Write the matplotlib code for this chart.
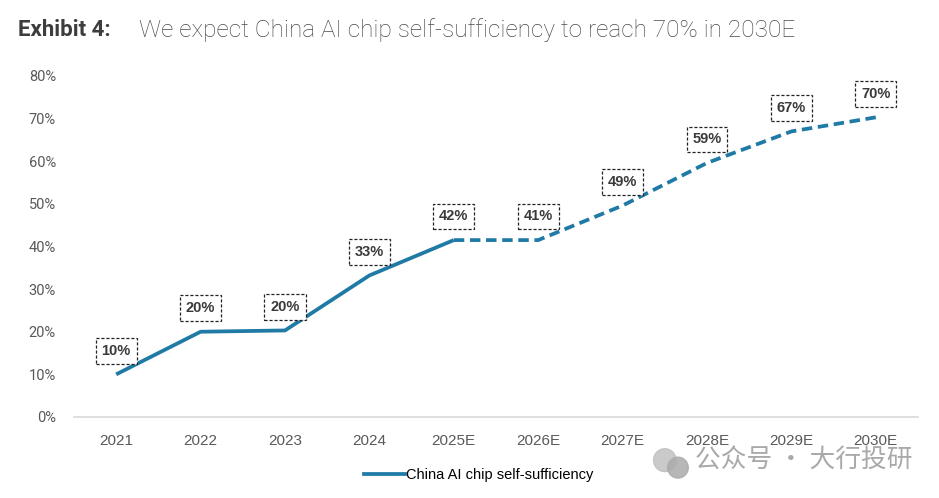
import matplotlib.pyplot as plt
from matplotlib import font_manager
from matplotlib.patches import Ellipse

years = ["2021", "2022", "2023", "2024", "2025E", "2026E", "2027E", "2028E", "2029E", "2030E"]
share = [10, 20, 20.3, 33.2, 41.5, 41.5, 49.6, 59.6, 67.0, 70.3]
labels = ["10%", "20%", "20%", "33%", "42%", "41%", "49%", "59%", "67%", "70%"]
actual_until = 4  # index of 2025E, dashed from here on
yticks = [0, 10, 20, 30, 40, 50, 60, 70, 80]

LINE = "#1f7aa6"
GREY = "#595959"

names = {f.name for f in font_manager.fontManager.ttflist}
narrow = "Liberation Sans Narrow" if "Liberation Sans Narrow" in names else "Liberation Sans"

fig = plt.figure(figsize=(9.39, 4.98), dpi=100)
ax = fig.add_axes([0.0788, 0.1627, 0.8988, 0.6847])

x = list(range(len(years)))
ax.plot(x[:actual_until + 1], share[:actual_until + 1], color=LINE, lw=2.7, solid_capstyle="butt")
ax.plot(x[actual_until:], share[actual_until:], color=LINE, lw=2.7, ls=(0, (2.8, 1.5)))

for xi, yi, lab in zip(x, share, labels):
    ax.annotate(lab, (xi, yi), xytext=(0, 17), textcoords="offset points", ha="center", va="center",
                fontsize=10.5, fontweight="bold", color="#3a3a3a", family="Liberation Sans",
                bbox=dict(boxstyle="square,pad=0.4", fc="white", ec="#222222", lw=0.9, ls=(0, (2.5, 1.5))))

ax.set_xlim(-0.5, len(years) - 0.5)
ax.set_ylim(0, 80)
ax.set_xticks(x)
ax.set_xticklabels(years, family=narrow, fontsize=11, color=GREY)
ax.set_yticks(yticks)
ax.set_yticklabels([f"{v}%" for v in yticks], family="Roboto", fontsize=10.5, color=GREY)
ax.tick_params(length=0, pad=12)
ax.tick_params(axis="y", pad=13)
for s in ["top", "right", "left"]:
    ax.spines[s].set_visible(False)
ax.spines["bottom"].set_color("#d9d9d9")
ax.spines["bottom"].set_linewidth(1.2)

fig.text(0.019, 0.94, "Exhibit 4:", fontsize=16, fontweight="bold", color="#3d3d3d", family="Roboto", va="center")
fig.text(0.148, 0.94, "We expect China AI chip self-sufficiency to reach 70% in 2030E", fontsize=17.6,
         fontweight="light", color="#4a4a4a", family="Roboto", va="center")

fig.legend(handles=[plt.Line2D([], [], color=LINE, lw=2.7)], labels=["China AI chip self-sufficiency"],
           loc="center", bbox_to_anchor=(0.51, 0.046), frameon=False, handlelength=2.8, handletextpad=0.1,
           prop={"family": narrow, "size": 10.5})

# watermark
fig.patches.append(Ellipse((0.708, 0.076), 0.024, 0.046, transform=fig.transFigure, color="#bdbdbd", alpha=0.8))
fig.patches.append(Ellipse((0.722, 0.061), 0.022, 0.042, transform=fig.transFigure, color="#ababab", alpha=0.85))
fig.text(0.972, 0.074, "公众号 · 大行投研", fontsize=18.5, color="#a0a0a0", alpha=0.9, ha="right", va="center",
         family=["Noto Sans CJK SC", "DejaVu Sans"])

fig.savefig("out.png", dpi=100)
